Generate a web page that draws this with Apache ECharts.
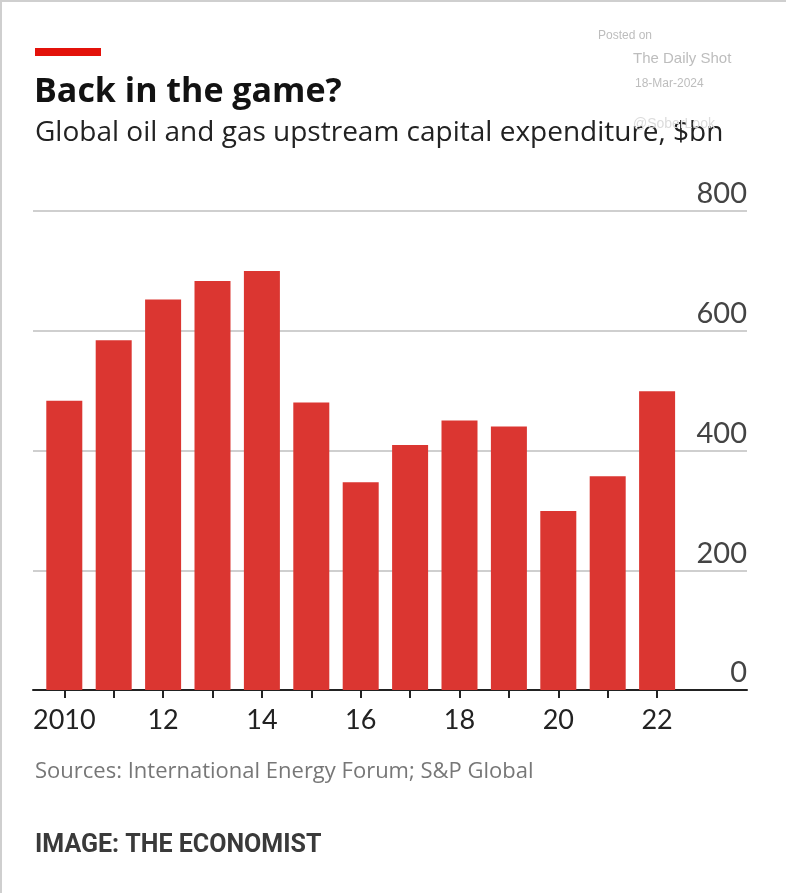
<!DOCTYPE html>
<html>
<head>
<meta charset="utf-8">
<style>
html,body{margin:0;padding:0;background:#fff;}
#chart{width:786px;height:893px;}
</style>
<script src="https://cdn.jsdelivr.net/npm/echarts@6/dist/echarts.min.js"></script>
</head>
<body>
<div id="chart"></div>
<script>
const years = ['2010','2011','2012','2013','2014','2015','2016','2017','2018','2019','2020','2021','2022'];
const xTickLabels = ['2010','','12','','14','','16','','18','','20','','22'];
const capex = [483, 584, 652, 683, 700, 480, 347, 409, 450, 440, 299, 357, 499];
const yTicks = [0, 200, 400, 600, 800];

const chart = echarts.init(document.getElementById('chart'));
const FONT = 'Lato';
const gridTop = 211, gridBottom = 893 - 690;

chart.setOption({
  backgroundColor: '#ffffff',
  animation: false,
  textStyle: { fontFamily: FONT },
  graphic: [
    { type: 'rect', shape: { x: 0, y: 0, width: 786, height: 2 }, style: { fill: '#cfcfcf' } },
    { type: 'rect', shape: { x: 0, y: 0, width: 2, height: 893 }, style: { fill: '#cfcfcf' } },
    { type: 'rect', shape: { x: 35, y: 48, width: 66, height: 8 }, style: { fill: '#e3120b' } },
    { type: 'text', left: 34, top: 75, style: { text: 'Back in the game?', font: 'bold 34px "Open Sans"', fill: '#121212' } },
    { type: 'text', left: 35, top: 119, style: { text: 'Global oil and gas upstream capital expenditure, $bn', font: '28px "Open Sans"', fill: '#222' } },
    { type: 'text', left: 598, top: 30, style: { text: 'Posted on', font: '12px "Liberation Sans"', fill: '#bdbdbd' } },
    { type: 'text', left: 633, top: 51, style: { text: 'The Daily Shot', font: '15px "Liberation Sans"', fill: '#bdbdbd' } },
    { type: 'text', left: 635, top: 78, style: { text: '18-Mar-2024', font: '12px "Liberation Sans"', fill: '#bdbdbd' } },
    { type: 'text', left: 633, top: 117, style: { text: '@SoberLook', font: '14px "Liberation Sans"', fill: '#dcdcdc' } },
    { type: 'text', left: 35, top: 761, style: { text: 'Sources: International Energy Forum; S&P Global', font: '22px "Open Sans"', fill: '#777' } },
    { type: 'text', left: 35, top: 833, style: { text: 'IMAGE: THE ECONOMIST', font: 'bold 25px Roboto', fill: '#3a3a3a' } }
  ],
  grid: [
    { left: 33, right: 786 - 747, top: gridTop, bottom: gridBottom },
    { left: 39.6, width: 642.2, top: gridTop, bottom: gridBottom }
  ],
  xAxis: [
    {
      gridIndex: 0, type: 'value', min: 0, max: 1,
      axisLine: { show: true, lineStyle: { color: '#222', width: 2 } },
      axisTick: { show: false }, axisLabel: { show: false }, splitLine: { show: false }
    },
    {
      gridIndex: 1, type: 'category', data: years,
      axisLine: { show: false },
      axisTick: { show: true, alignWithLabel: true, length: 8, lineStyle: { color: '#222', width: 2 } },
      axisLabel: {
        interval: 0, margin: 17, fontSize: 27, color: '#222', fontFamily: FONT,
        formatter: (v, i) => xTickLabels[i]
      },
      splitLine: { show: false }
    }
  ],
  yAxis: [
    {
      gridIndex: 0, type: 'value', position: 'right', min: yTicks[0], max: yTicks[yTicks.length - 1], interval: 200,
      axisLine: { show: false }, axisTick: { show: false },
      axisLabel: { inside: true, margin: 0, fontSize: 29, color: '#444', fontFamily: FONT, verticalAlign: 'bottom', lineHeight: 30, padding: [0, 0, 2, 0] },
      splitLine: { show: true, lineStyle: { color: '#cfcfcf', width: 2 } }
    },
    {
      gridIndex: 1, type: 'value', min: yTicks[0], max: yTicks[yTicks.length - 1], interval: 200,
      show: false, splitLine: { show: false }
    }
  ],
  series: [
    {
      type: 'bar', xAxisIndex: 1, yAxisIndex: 1, data: capex,
      barWidth: 36,
      itemStyle: { color: '#db3631' },
      z: 1
    }
  ]
});
</script>
</body>
</html>
